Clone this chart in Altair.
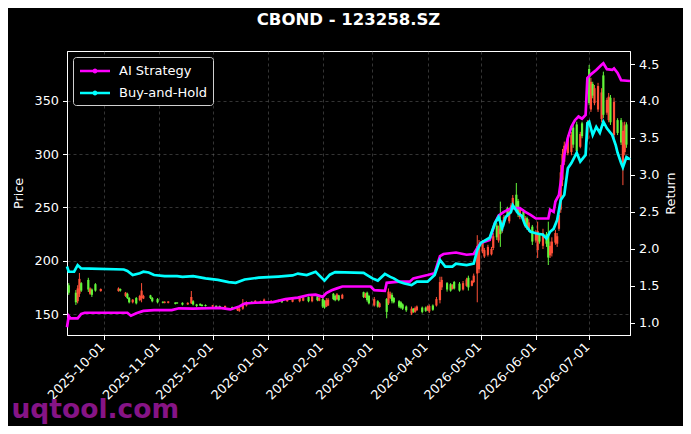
import altair as alt
import pandas as pd

# ---------------- data ----------------
candle_dates = [
    "2025-09-11", "2025-09-15", "2025-09-16", "2025-09-17", "2025-09-18", "2025-09-22", "2025-09-23", "2025-09-24",
    "2025-09-26", "2025-09-29", "2025-10-09", "2025-10-10", "2025-10-13", "2025-10-14", "2025-10-15", "2025-10-17",
    "2025-10-19", "2025-10-21", "2025-10-22", "2025-10-23", "2025-10-27", "2025-10-28", "2025-10-31", "2025-11-03",
    "2025-11-04", "2025-11-06", "2025-11-10", "2025-11-11", "2025-11-14", "2025-11-17", "2025-11-19", "2025-11-20",
    "2025-11-22", "2025-11-24", "2025-11-25", "2025-11-27", "2025-12-01", "2025-12-03", "2025-12-05", "2025-12-08",
    "2025-12-12", "2025-12-15", "2025-12-16", "2025-12-18", "2025-12-20", "2025-12-23", "2025-12-25", "2025-12-28",
    "2025-12-30", "2026-01-03", "2026-01-07", "2026-01-09", "2026-01-12", "2026-01-15", "2026-01-19", "2026-01-21",
    "2026-01-24", "2026-01-26", "2026-01-29", "2026-01-30", "2026-02-01", "2026-02-02", "2026-02-03", "2026-02-04",
    "2026-02-07", "2026-02-08", "2026-02-09", "2026-02-10", "2026-02-12", "2026-02-24", "2026-02-25", "2026-02-26",
    "2026-02-27", "2026-03-02", "2026-03-04", "2026-03-05", "2026-03-09", "2026-03-10", "2026-03-11", "2026-03-12",
    "2026-03-13", "2026-03-16", "2026-03-17", "2026-03-18", "2026-03-20", "2026-03-23", "2026-03-24", "2026-03-25",
    "2026-03-26", "2026-03-29", "2026-03-31", "2026-04-01", "2026-04-02", "2026-04-04", "2026-04-06", "2026-04-08",
    "2026-04-09", "2026-04-12", "2026-04-14", "2026-04-15", "2026-04-16", "2026-04-19", "2026-04-21", "2026-04-23",
    "2026-04-24", "2026-04-26", "2026-04-27", "2026-04-29", "2026-04-30", "2026-05-02", "2026-05-03", "2026-05-05",
    "2026-05-07", "2026-05-08", "2026-05-10", "2026-05-11", "2026-05-12", "2026-05-13", "2026-05-14", "2026-05-16",
    "2026-05-17", "2026-05-18", "2026-05-19", "2026-05-21", "2026-05-22", "2026-05-23", "2026-05-25", "2026-05-26",
    "2026-05-27", "2026-05-28", "2026-05-30", "2026-06-01", "2026-06-02", "2026-06-03", "2026-06-05", "2026-06-07",
    "2026-06-08", "2026-06-09", "2026-06-10", "2026-06-12", "2026-06-13", "2026-06-14", "2026-06-15", "2026-06-16",
    "2026-06-17", "2026-06-19", "2026-06-21", "2026-06-22", "2026-06-24", "2026-06-26", "2026-06-27", "2026-06-30",
    "2026-07-01", "2026-07-02", "2026-07-03", "2026-07-04", "2026-07-06", "2026-07-08", "2026-07-09", "2026-07-11",
    "2026-07-12", "2026-07-13", "2026-07-15", "2026-07-17", "2026-07-19", "2026-07-20", "2026-07-21", "2026-07-22",
]
candle_open = [
    177, 170, 162, 169, 179, 182, 169, 173, 178, 171.5, 171.5, 173.5, 167, 169, 165, 161,
    165, 163, 165, 164.5, 167.5, 165, 164, 161.5, 160.5, 160.5, 160.8, 160.8, 160.5, 159, 160, 162,
    159, 159.5, 158.8, 158.5, 157, 157.8, 157.5, 156, 156.5, 153.5, 153, 155, 158, 161.5, 161, 160.5,
    161, 161.5, 161.5, 163, 162, 161.5, 162, 162.5, 166, 162, 166.5, 162.5, 164, 162, 157, 158,
    169, 167, 164, 167.5, 164.5, 170.5, 165.5, 170, 167, 158, 162, 156.5, 164, 160, 165, 168,
    165, 162, 161, 159, 157, 150.5, 155, 152, 153.5, 156, 156, 154, 152.5, 158, 158, 163,
    175, 179, 178, 173.5, 180, 178.5, 173, 176.5, 184, 176.5, 180, 188, 192, 209, 204, 205.5,
    206, 212, 233, 219, 238, 228, 234, 249.5, 237, 246, 249, 262, 256, 241, 246, 233,
    240, 229, 232, 219, 210, 225, 214, 225, 225, 205, 207, 217, 216, 230, 248, 276,
    293, 301, 302, 325, 328, 307, 329, 314, 380, 342, 366, 348, 342, 333, 374, 339,
    332, 353, 318, 332, 332, 290, 302, 328,
]
candle_high = [
    179, 172.5, 177, 188.5, 180, 184, 175, 174, 179, 174, 175, 174, 170.7, 170, 166, 164,
    166, 168, 179, 168, 168, 166, 165, 162, 162, 162, 161, 161, 161, 161, 171.6, 163,
    159.5, 160, 159, 159, 158.5, 158, 158, 158, 157, 156.6, 156, 164, 162, 162, 163, 162.5,
    164.5, 163, 163.5, 163.5, 164, 165, 166.5, 166.5, 166.5, 168, 167, 166, 165, 163, 165, 165,
    169.7, 168, 169.7, 168, 169, 171, 170, 171, 168, 166, 163, 161, 165, 174, 171, 170,
    166, 163, 162, 160, 158, 157, 155.5, 157, 158, 157, 157, 158, 159, 159, 166, 185,
    185, 180, 179, 178, 181, 180, 181, 184, 186, 182, 188, 224, 219.5, 219.5, 212, 215,
    213, 226, 235.4, 233, 255.5, 238, 243, 250.7, 249, 254, 261.7, 273, 258, 250, 248, 242,
    241.4, 239, 233.6, 229, 236.7, 226, 230, 227, 236.7, 218, 222, 229, 226, 245, 290, 305,
    311.8, 318, 321, 327.5, 330.5, 321, 330.5, 332, 383.8, 371.6, 368, 365, 367, 362, 377.5, 353,
    357.5, 355.6, 353, 333.8, 334, 330, 330.5, 330,
]
candle_low = [
    168, 158.5, 160, 166, 170.7, 170.7, 168, 166, 171, 171, 171, 171, 166, 164, 160, 160,
    159, 162, 161, 164, 164, 161, 160, 160, 160, 160, 159, 159.5, 158, 158.5, 159.4, 158,
    156.5, 157.5, 157, 157, 156.6, 156, 155.5, 155.5, 155, 152.8, 152, 154, 157, 159.5, 160.5, 160,
    160, 161, 161, 160.5, 161.5, 161, 161, 162, 161, 161, 162, 162, 155.6, 155, 156.5, 157.5,
    163, 162, 163, 162, 164, 165, 165, 161.5, 159, 157, 156, 156, 146, 158.5, 164, 160,
    160, 155.6, 155, 153.8, 152, 149, 151, 151, 153, 150.6, 152, 153, 151, 153, 157, 160,
    172.5, 171, 171, 173, 173, 171, 172, 175.6, 172, 176, 179, 161, 188.5, 207, 202.6, 204,
    205, 210, 219.5, 217, 213, 226, 232, 241.4, 235, 244, 247.7, 245, 241, 239, 236, 231,
    229, 227, 214.8, 217, 202.6, 216, 211, 213, 196, 202.6, 204, 215, 213, 228, 245, 270,
    290, 299, 299, 306, 299, 305.6, 315, 312, 346, 339.7, 352.5, 346, 339.7, 330, 334, 337,
    330, 327.5, 315, 318, 308.7, 271, 299, 306,
]
candle_close = [
    170, 161, 174, 183, 172, 173, 174, 168, 172, 173.5, 174, 172, 170, 165, 161, 163.5,
    160, 167, 172, 167, 165, 162, 161, 160.5, 161.5, 161.8, 159.5, 160, 158.8, 160.5, 166, 159,
    157.5, 158, 157.5, 157.5, 158.2, 156.5, 156, 157.5, 155.5, 156, 155, 160, 161, 160, 162.5, 162,
    163.5, 162.5, 163, 161, 163.5, 164, 165.5, 165.5, 162, 166.5, 163, 165, 157, 156, 163, 163.5,
    164, 163, 168.5, 163, 168, 166, 169, 163, 160, 164, 157, 160, 152, 171, 169, 162,
    161, 157, 156, 155, 153.5, 155, 152, 155.5, 157, 152, 153, 157, 157.5, 154, 164, 180,
    182, 173, 172, 177, 174, 172, 179, 182.5, 175, 181, 186, 214, 215, 217, 210, 213,
    211, 223, 222, 230, 225, 236, 241, 243, 247, 252, 259, 249, 244, 248, 238, 240,
    231, 236, 218, 226, 228, 218, 226, 216, 203, 214, 218, 226, 223, 243, 283, 300,
    308, 315, 318, 309, 303, 319, 317, 330, 348, 368, 355, 362, 364, 358, 337, 351,
    354, 330, 349, 320, 311, 322, 327, 309,
]

ai_dates = [
    "2025-09-10", "2025-09-11", "2025-09-12", "2025-09-16", "2025-09-18", "2025-09-20", "2025-10-14", "2025-10-16",
    "2025-10-19", "2025-10-23", "2025-10-29", "2025-11-08", "2025-11-12", "2025-11-20", "2025-12-05", "2025-12-11",
    "2025-12-16", "2025-12-19", "2025-12-25", "2026-01-04", "2026-01-11", "2026-01-18", "2026-01-24", "2026-01-28",
    "2026-02-01", "2026-02-03", "2026-02-06", "2026-02-09", "2026-02-12", "2026-02-28", "2026-03-02", "2026-03-08",
    "2026-03-09", "2026-03-16", "2026-03-22", "2026-03-24", "2026-04-01", "2026-04-05", "2026-04-08", "2026-04-10",
    "2026-04-17", "2026-04-23", "2026-04-27", "2026-04-29", "2026-05-01", "2026-05-06", "2026-05-09", "2026-05-11",
    "2026-05-14", "2026-05-18", "2026-05-23", "2026-05-26", "2026-05-29", "2026-06-01", "2026-06-08", "2026-06-09",
    "2026-06-11", "2026-06-12", "2026-06-14", "2026-06-15", "2026-06-16", "2026-06-17", "2026-06-19", "2026-06-21",
    "2026-06-23", "2026-06-25", "2026-06-27", "2026-06-29", "2026-06-30", "2026-07-02", "2026-07-05", "2026-07-08",
    "2026-07-09", "2026-07-11", "2026-07-14", "2026-07-15", "2026-07-17", "2026-07-19", "2026-07-24",
]
ai_values = [
    0.94, 1.09, 1.06, 1.06, 1.12, 1.135, 1.135, 1.095,
    1.127, 1.16, 1.17, 1.17, 1.195, 1.19, 1.20, 1.18,
    1.22, 1.26, 1.27, 1.28, 1.32, 1.34, 1.375, 1.38,
    1.35, 1.40, 1.44, 1.465, 1.49, 1.49, 1.44, 1.43,
    1.54, 1.555, 1.555, 1.60, 1.645, 1.67, 1.90, 1.93,
    1.95, 1.92, 1.93, 2.01, 2.08, 2.12, 2.35, 2.45,
    2.50, 2.55, 2.55, 2.50, 2.46, 2.41, 2.41, 2.53,
    2.50, 2.64, 2.73, 2.90, 3.10, 3.27, 3.50, 3.65,
    3.74, 3.79, 3.76, 3.81, 4.31, 4.36, 4.42, 4.49,
    4.51, 4.43, 4.42, 4.44, 4.38, 4.28, 4.27,
]

bh_dates = [
    "2025-09-10", "2025-09-11", "2025-09-14", "2025-09-16", "2025-09-18", "2025-10-12", "2025-10-14", "2025-10-17",
    "2025-10-21", "2025-10-23", "2025-10-26", "2025-10-29", "2025-11-04", "2025-11-11", "2025-11-14", "2025-11-20",
    "2025-11-27", "2025-12-04", "2025-12-10", "2025-12-14", "2025-12-19", "2025-12-27", "2026-01-07", "2026-01-15",
    "2026-01-18", "2026-01-23", "2026-01-28", "2026-02-02", "2026-02-05", "2026-02-08", "2026-02-24", "2026-02-26",
    "2026-03-01", "2026-03-04", "2026-03-08", "2026-03-11", "2026-03-13", "2026-03-16", "2026-03-19", "2026-03-23",
    "2026-03-26", "2026-04-01", "2026-04-05", "2026-04-08", "2026-04-11", "2026-04-15", "2026-04-17", "2026-04-23",
    "2026-04-27", "2026-04-29", "2026-05-01", "2026-05-06", "2026-05-09", "2026-05-11", "2026-05-13", "2026-05-15",
    "2026-05-18", "2026-05-19", "2026-05-22", "2026-05-24", "2026-05-26", "2026-05-29", "2026-06-01", "2026-06-05",
    "2026-06-07", "2026-06-09", "2026-06-11", "2026-06-13", "2026-06-15", "2026-06-17", "2026-06-19", "2026-06-21",
    "2026-06-24", "2026-06-26", "2026-06-29", "2026-06-30", "2026-07-01", "2026-07-03", "2026-07-05", "2026-07-07",
    "2026-07-09", "2026-07-11", "2026-07-14", "2026-07-16", "2026-07-17", "2026-07-19", "2026-07-20", "2026-07-22",
    "2026-07-24",
]
bh_values = [
    1.76, 1.69, 1.69, 1.78, 1.735, 1.72, 1.70, 1.645,
    1.67, 1.69, 1.68, 1.645, 1.63, 1.63, 1.62, 1.63,
    1.60, 1.58, 1.55, 1.54, 1.585, 1.61, 1.625, 1.64,
    1.665, 1.645, 1.69, 1.57, 1.65, 1.685, 1.675, 1.645,
    1.60, 1.57, 1.66, 1.62, 1.60, 1.555, 1.53, 1.51,
    1.555, 1.555, 1.645, 1.85, 1.76, 1.76, 1.80, 1.78,
    1.80, 1.98, 2.08, 2.15, 2.35, 2.43, 2.28, 2.43,
    2.50, 2.59, 2.48, 2.45, 2.32, 2.23, 2.21, 2.19,
    2.14, 2.23, 2.27, 2.39, 2.66, 2.73, 3.09, 3.16,
    3.30, 3.18, 3.27, 3.70, 3.72, 3.54, 3.65, 3.57,
    3.72, 3.63, 3.54, 3.40, 3.30, 3.16, 3.10, 3.24,
    3.21,
]

series_names = ["AI Strategy", "Buy-and-Hold"]
series_colors = ["#ff00ff", "#00ffff"]
price_ticks = [150, 200, 250, 300, 350]
return_ticks = [1.0, 1.5, 2.0, 2.5, 3.0, 3.5, 4.0, 4.5]
month_ticks = [(2025, 10), (2025, 11), (2025, 12), (2026, 1), (2026, 2), (2026, 3),
               (2026, 4), (2026, 5), (2026, 6), (2026, 7)]

# ---------------- tables ----------------
candles = pd.DataFrame({
    "date": candle_dates, "open": candle_open, "high": candle_high,
    "low": candle_low, "close": candle_close,
})
lines = pd.DataFrame({
    "date": ai_dates + bh_dates,
    "value": ai_values + bh_values,
    "series": [series_names[0]] * len(ai_dates) + [series_names[1]] * len(bh_dates),
})

UP = "#ff5038"
DOWN = "#62f53a"
FONT = "DejaVu Sans"

x_enc = alt.X(
    "date:T",
    scale=alt.Scale(
        type="utc",
        domain=[alt.DateTime(year=2025, month=9, date=10, utc=True),
                alt.DateTime(year=2026, month=7, date=24, utc=True)],
    ),
    axis=alt.Axis(
        values=[alt.DateTime(year=y, month=m, date=1, utc=True) for y, m in month_ticks],
        format="%Y-%m-%d",
        labelAngle=315,
        labelAlign="right",
        labelBaseline="middle",
        labelPadding=5,
        labelOffset=-2,
        labelOverlap=False,
        labelFlush=False,
        grid=True,
        title="uqtool.com",
        titleColor="#861486",
        titleFontSize=26.5,
        titleFontWeight="bold",
        titleAnchor="start",
        titleAlign="left",
        titleBaseline="alphabetic",
        titleX=-56,
        titleY=82,
    ),
)

price_scale = alt.Scale(domain=[130.3, 396.9], nice=False, zero=False)
price_axis = alt.Axis(title="Price", values=price_ticks, orient="left", grid=True, titlePadding=9)

color_cond = alt.condition("datum.close >= datum.open", alt.value(UP), alt.value(DOWN))

wicks = alt.Chart(candles).mark_rule(strokeWidth=1).encode(
    x=x_enc,
    y=alt.Y("low:Q", scale=price_scale, axis=price_axis),
    y2="high:Q",
    color=color_cond,
)
bodies = alt.Chart(candles).mark_rule(strokeWidth=2.2).encode(
    x=x_enc,
    y=alt.Y("open:Q", scale=price_scale, axis=price_axis),
    y2="close:Q",
    color=color_cond,
)
candle_layer = alt.layer(wicks, bodies)

# legend symbol: a line with a small round marker in the middle
legend_symbol = "M-2,0L2,0M-0.15,0a0.15,0.15 0 1,0 0.3,0a0.15,0.15 0 1,0 -0.3,0"

line_layer = alt.Chart(lines).mark_line(strokeWidth=2.7).encode(
    x=x_enc,
    y=alt.Y(
        "value:Q",
        scale=alt.Scale(domain=[0.834, 4.676], nice=False, zero=False),
        axis=alt.Axis(title="Return", orient="right", values=return_ticks, format=".1f",
                      grid=False, titleAngle=270, titleBaseline="top", titlePadding=6),
    ),
    color=alt.Color(
        "series:N",
        scale=alt.Scale(domain=series_names, range=series_colors),
        legend=alt.Legend(
            title=None, orient="top-left", offset=6,
            fillColor="black", strokeColor="#d0d0d0", padding=5, cornerRadius=3,
            labelColor="white", labelFontSize=13, labelFont=FONT, labelOffset=15,
            symbolType=legend_symbol, symbolStrokeWidth=2.7, symbolSize=225,
            symbolOffset=8, rowPadding=6,
        ),
    ),
)

chart = (
    alt.layer(candle_layer, line_layer)
    .resolve_scale(y="independent")
    .properties(
        width=563,
        height=284,
        title=alt.TitleParams(
            "CBOND - 123258.SZ", color="white", fontSize=16.5, fontWeight="bold", font=FONT,
            anchor="middle", frame="group", offset=23,
        ),
        autosize=alt.AutoSizeParams(type="none"),
        padding={"left": 59, "top": 43, "right": 53, "bottom": 91},
        background="black",
    )
    .configure_view(stroke="white", strokeWidth=1)
    .configure_axis(
        domainColor="white", tickColor="white", labelColor="white", titleColor="white",
        labelFont=FONT, titleFont=FONT, labelFontSize=12.8, titleFontSize=12.8,
        titleFontWeight="normal", tickSize=4.5, labelPadding=4,
        gridColor="#6a6a6a", gridDash=[3, 3], gridWidth=0.7, gridOpacity=0.7,
    )
)

chart.save("out.html", embed_options={"renderer": "svg", "actions": False})
